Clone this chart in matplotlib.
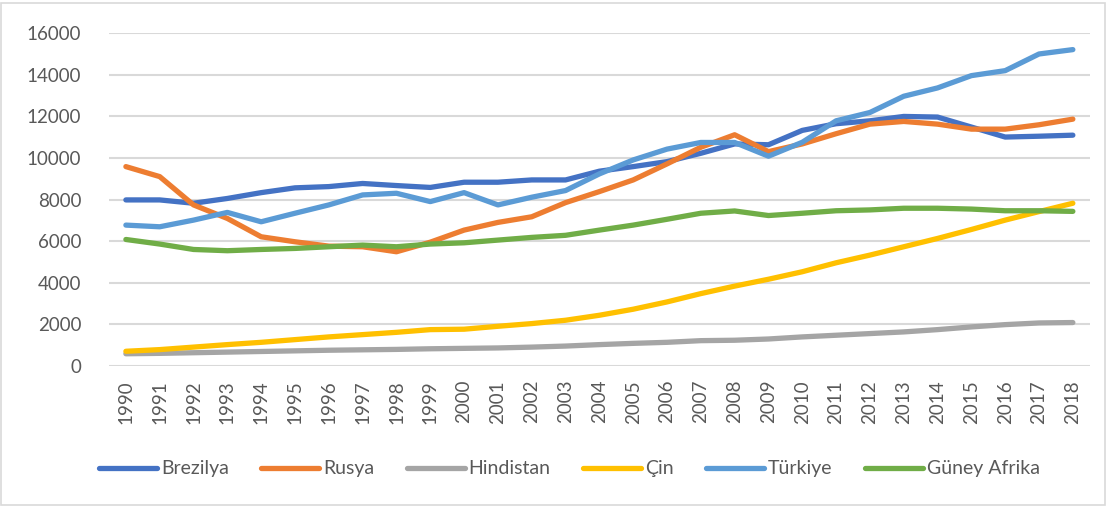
import matplotlib.pyplot as plt
import numpy as np
from matplotlib.patches import Rectangle

years = [str(y) for y in range(1990, 2019)]

brezilya = [7980, 7980, 7820, 8050, 8330, 8560, 8620, 8770, 8670, 8580,
            8830, 8830, 8940, 8940, 9360, 9580, 9820, 10220, 10670, 10630,
            11320, 11640, 11780, 11990, 11960, 11480, 11000, 11040, 11090]
rusya = [9580, 9100, 7740, 7090, 6210, 5970, 5760, 5730, 5490, 5950,
         6530, 6900, 7170, 7850, 8380, 8940, 9710, 10510, 11110, 10300,
         10670, 11160, 11620, 11750, 11620, 11380, 11380, 11590, 11860]
hindistan = [590, 610, 640, 670, 700, 730, 760, 780, 800, 830,
             850, 870, 910, 960, 1030, 1090, 1140, 1220, 1240, 1300,
             1400, 1480, 1560, 1640, 1750, 1880, 1990, 2070, 2090]
cin = [710, 790, 910, 1030, 1140, 1270, 1400, 1510, 1620, 1750,
       1770, 1910, 2040, 2200, 2440, 2730, 3080, 3480, 3840, 4170,
       4530, 4960, 5330, 5730, 6130, 6560, 7010, 7420, 7820]
turkiye = [6770, 6690, 7010, 7380, 6930, 7340, 7740, 8220, 8300, 7900,
           8330, 7740, 8110, 8430, 9230, 9900, 10420, 10740, 10740, 10080,
           10750, 11780, 12180, 12960, 13360, 13950, 14190, 14990, 15200]
guney_afrika = [6080, 5860, 5600, 5540, 5600, 5650, 5730, 5810, 5730, 5860,
                5920, 6050, 6180, 6280, 6530, 6770, 7050, 7340, 7450, 7230,
                7340, 7460, 7500, 7580, 7580, 7540, 7460, 7460, 7430]

series = [
    ("Brezilya", brezilya, "#4472C4"),
    ("Rusya", rusya, "#ED7D31"),
    ("Hindistan", hindistan, "#A5A5A5"),
    ("Çin", cin, "#FFC000"),
    ("Türkiye", turkiye, "#5B9BD5"),
    ("Güney Afrika", guney_afrika, "#70AD47"),
]

plt.rcParams["font.family"] = ["Lato", "DejaVu Sans"]
text_color = "#595959"

fig = plt.figure(figsize=(11.12, 5.07), dpi=100)
ax = fig.add_axes([0.098, 0.278, 0.882, 0.657])

x = np.arange(len(years))
for name, vals, color in series:
    ax.plot(x, vals, color=color, linewidth=3.8, label=name,
            solid_capstyle="round", solid_joinstyle="round")

ax.set_xlim(-0.5, len(years) - 0.5)
ax.set_ylim(0, 16000)
ax.set_yticks(np.arange(0, 16001, 2000))
ax.set_xticks(x)
ax.set_xticklabels(years, rotation=90)
ax.tick_params(axis="both", length=0, labelsize=13.5, colors=text_color)
ax.tick_params(axis="x", pad=10)
ax.tick_params(axis="y", pad=20)
ax.yaxis.grid(True, color="#d9d9d9", linewidth=1.5)
ax.set_axisbelow(True)
for s in ax.spines.values():
    s.set_visible(False)

leg = fig.legend(loc="center", bbox_to_anchor=(0.512, 0.075), ncol=6,
                 frameon=False, fontsize=14, handlelength=3.0,
                 handletextpad=0.2, columnspacing=1.65)
for t in leg.get_texts():
    t.set_color(text_color)
for h in leg.get_lines():
    h.set_linewidth(3.8)
    h.set_solid_capstyle("round")

fig.patches.append(Rectangle((0.001, 0.004), 0.993, 0.99, transform=fig.transFigure,
                             fill=False, edgecolor="#d9d9d9", linewidth=1.2))

fig.savefig("out.png", dpi=100)
